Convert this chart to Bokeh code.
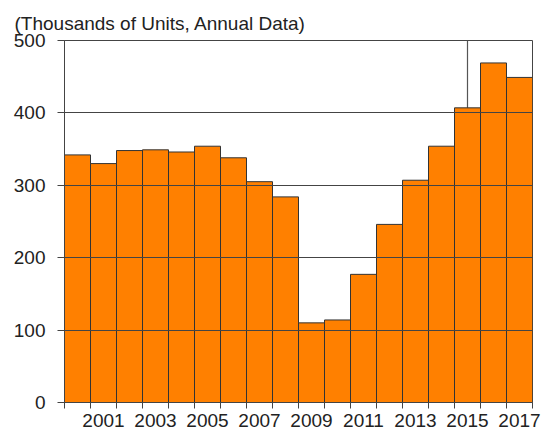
from bokeh.plotting import figure
from bokeh.models import FixedTicker, LinearAxis, Range1d, Span, ColumnDataSource
from bokeh.embed import file_html
from bokeh.resources import INLINE

years = list(range(2000, 2018))
units = [342, 330, 348, 349, 346, 354, 338, 305, 284, 110, 114, 177, 246, 307, 354, 407, 469, 449]
y_ticks = [0, 100, 200, 300, 400, 500]
x_label_years = [2001, 2003, 2005, 2007, 2009, 2011, 2013, 2015, 2017]
marker_year = 2015

FONT = "Liberation Sans"
TXT = "#222222"
FS = "19px"

p = figure(width=548, height=430, output_backend="svg", toolbar_location=None,
           x_range=Range1d(years[0] - 0.5, years[-1] + 0.5), y_range=Range1d(0, 500),
           min_border_left=64, min_border_right=16, min_border_top=40, min_border_bottom=28)

p.title.text = "(Thousands of Units, Annual Data)"
p.title.align = "left"
p.title.offset = -50
p.title.standoff = 14
p.title.text_line_height = 1.0
p.title.text_font = FONT
p.title.text_font_size = "19px"
p.title.text_font_style = "normal"
p.title.text_color = TXT

src = ColumnDataSource(dict(x=years, top=units))

p.add_layout(Span(location=marker_year, dimension="height", line_color="#555555",
                  line_width=1.2, level="underlay"))

p.vbar(x="x", top="top", bottom=0, width=1.0, source=src,
       fill_color="#FF8000", line_color="#333333", line_width=1)

p.outline_line_color = "#444444"
p.outline_line_width = 1
p.xgrid.visible = False
p.ygrid.ticker = FixedTicker(ticks=y_ticks)
p.ygrid.grid_line_color = "#444444"
p.ygrid.grid_line_width = 1
p.ygrid.level = "annotation"

# y axis
ya = p.yaxis[0]
ya.ticker = FixedTicker(ticks=y_ticks)
ya.major_tick_out = 7
ya.major_tick_in = 0
ya.minor_tick_line_color = None
ya.axis_line_color = "#444444"
ya.major_tick_line_color = "#444444"
ya.major_label_standoff = 12
ya.major_label_text_font = FONT
ya.major_label_text_font_size = FS
ya.major_label_text_color = TXT

# x axis: ticks at bar edges, no labels
xa = p.xaxis[0]
edges = [y - 0.5 for y in years] + [years[-1] + 0.5]
xa.ticker = FixedTicker(ticks=edges)
xa.major_label_overrides = {e: "" for e in edges}
xa.major_label_text_font_size = "0px"
xa.major_label_standoff = 0
xa.major_tick_out = 6
xa.major_tick_in = 0
xa.minor_tick_line_color = None
xa.axis_line_color = "#444444"
xa.major_tick_line_color = "#444444"

# second x axis for year labels centered on bars
xl = LinearAxis(ticker=FixedTicker(ticks=x_label_years))
xl.axis_line_color = None
xl.major_tick_line_color = None
xl.minor_tick_line_color = None
xl.major_tick_out = 0
xl.major_tick_in = 0
xl.major_label_standoff = 5
xl.major_label_text_font = FONT
xl.major_label_text_font_size = FS
xl.major_label_text_color = TXT
p.add_layout(xl, "below")

open("out.html", "w").write(file_html(p, INLINE))
